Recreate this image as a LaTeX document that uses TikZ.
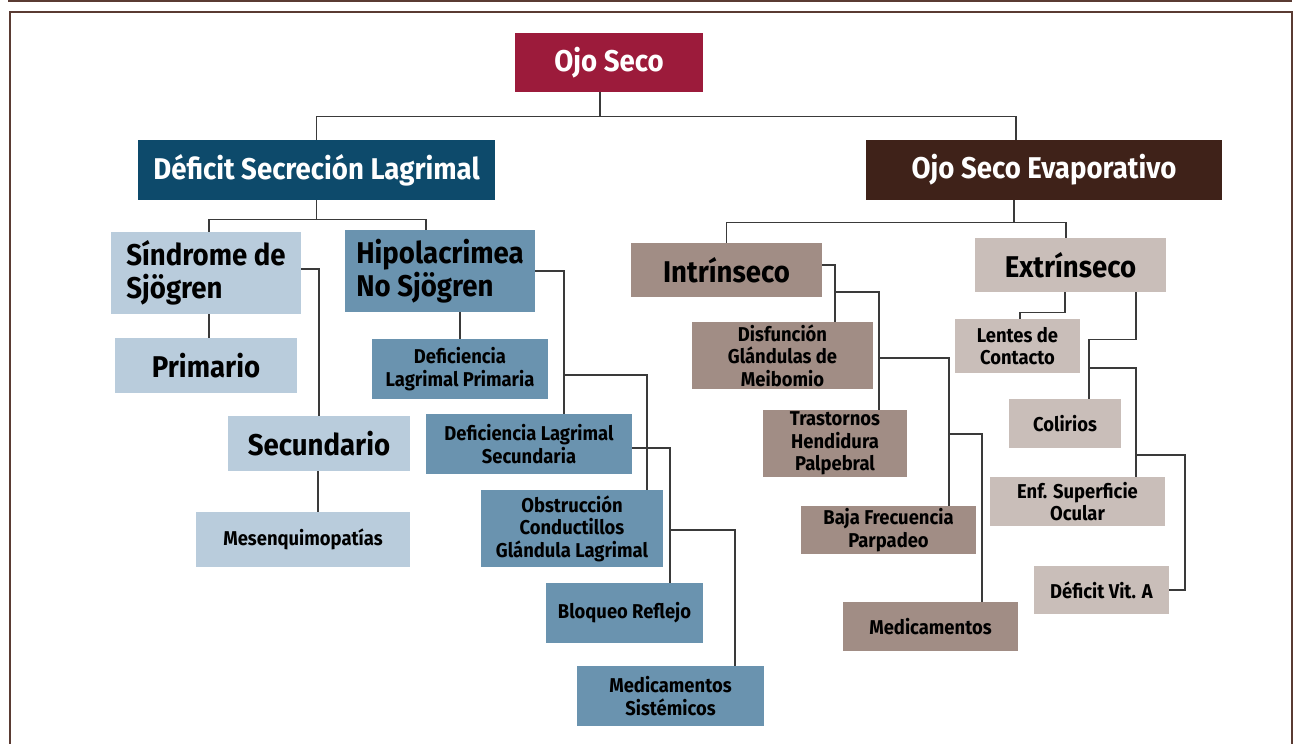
\documentclass[tikz,border=0pt]{standalone}
\usepackage{fontspec}
\setmainfont{Fira Sans}[FakeStretch=0.92]
\usetikzlibrary{calc}
\definecolor{ojored}{HTML}{9C1B3B}
\definecolor{defblue}{HTML}{0D4A6B}
\definecolor{evapbrown}{HTML}{3F2219}
\definecolor{lightblue}{HTML}{B9CCDC}
\definecolor{midblue}{HTML}{6A93AF}
\definecolor{midbrown}{HTML}{A18D85}
\definecolor{lightbrown}{HTML}{C9BEB9}
\definecolor{framebrown}{HTML}{5A3B33}
\definecolor{linegray}{HTML}{3A3A3A}
\tikzset{
  box/.style={inner sep=0pt, align=center, font=\bfseries\fontsize{20}{22.5}\selectfont},
  bigbox/.style={box, font=\bfseries\fontsize{30}{32.5}\selectfont},
  link/.style={draw=linegray, line width=1.4pt}
}
\begin{document}
\begin{tikzpicture}[x=1pt,y=-1pt]
        \useasboundingbox (0,0) rectangle (1298,744);
        % Frame
        \draw[framebrown, line width=1.6pt] (8,1) -- (1292,1);
        \draw[framebrown, line width=2pt] (10,746) -- (10,12) -- (1292,12) -- (1292,746);
        % Top levels
        \node[bigbox, fill=ojored, text=white, minimum width=188, minimum height=59] (ojo) at (609,62.5) {Ojo Seco};
        \node[bigbox, fill=defblue, text=white, minimum width=357, minimum height=60] (def) at (316.5,170) {Déficit Secreción Lagrimal};
        \node[bigbox, fill=evapbrown, text=white, minimum width=356, minimum height=60] (evap) at (1044,170) {Ojo Seco Evaporativo};
        % Deficit branch
        \node[bigbox, fill=lightblue, align=left, minimum width=190, minimum height=82] (sjo) at (206,273) {Síndrome de\\Sjögren};
        \node[bigbox, fill=midblue, align=left, minimum width=190, minimum height=82] (hipo) at (440,271) {Hipolacrimea\\No Sjögren};
        \node[bigbox, fill=lightblue, minimum width=182, minimum height=55] (prim) at (206,365.5) {Primario};
        \node[bigbox, fill=lightblue, minimum width=182, minimum height=55] (secu) at (319,443.5) {Secundario};
        \node[box, fill=lightblue, minimum width=214, minimum height=55] (mesen) at (303,539.5) {Mesenquimopatías};
        \node[box, fill=midblue, minimum width=176, minimum height=60] (dlp) at (460,369) {Deficiencia\\Lagrimal Primaria};
        \node[box, fill=midblue, minimum width=206, minimum height=60] (dls) at (529,444) {Deficiencia Lagrimal\\Secundaria};
        \node[box, fill=midblue, minimum width=182, minimum height=77] (obst) at (572,528.5) {Obstrucción\\Conductillos\\Glándula Lagrimal};
        \node[box, fill=midblue, minimum width=157, minimum height=60] (bloq) at (624.5,613) {Bloqueo Reflejo};
        \node[box, fill=midblue, minimum width=187, minimum height=60] (medsis) at (670.5,696) {Medicamentos\\Sistémicos};
        % Evaporativo branch
        \node[bigbox, fill=midbrown, minimum width=191, minimum height=54] (intr) at (726.5,270) {Intrínseco};
        \node[bigbox, fill=lightbrown, minimum width=191, minimum height=54] (extr) at (1070.5,265) {Extrínseco};
        \node[box, fill=midbrown, minimum width=181, minimum height=67] (dgm) at (782.5,355.5) {Disfunción\\Glándulas de\\Meibomio};
        \node[box, fill=midbrown, minimum width=144, minimum height=67] (tras) at (835,443.5) {Trastornos\\Hendidura\\Palpebral};
        \node[box, fill=midbrown, minimum width=175, minimum height=48] (baja) at (888.5,530) {Baja Frecuencia\\Parpadeo};
        \node[box, fill=midbrown, minimum width=175, minimum height=49] (medi) at (930.5,626.5) {Medicamentos};
        \node[box, fill=lightbrown, minimum width=125, minimum height=54] (lent) at (1017.5,346) {Lentes de\\Contacto};
        \node[box, fill=lightbrown, minimum width=112, minimum height=49] (coli) at (1065,423.5) {Colirios};
        \node[box, fill=lightbrown, minimum width=175, minimum height=49] (enf) at (1077.5,501.5) {Enf. Superficie\\Ocular};
        \node[box, fill=lightbrown, minimum width=135, minimum height=48] (vita) at (1101.5,590) {Déficit Vit. A};
        % Connectors, top
        \draw[link] ([xshift=-9]ojo.south) -- ++(0,24) -| (def.north);
        \draw[link] ([xshift=-9]ojo.south) -- ++(0,24) -| ([xshift=-28]evap.north);
        \draw[link] (def.south) -- ++(0,19) -| ([xshift=3]sjo.north);
        \draw[link] (def.south) -- ++(0,19) -| ([xshift=-14]hipo.north);
        % Connectors, Deficit
        \draw[link] ([xshift=3]sjo.south) -- ([xshift=3]prim.north);
        \draw[link] ([yshift=4]sjo.east) -| (secu.north);
        \draw[link] ([xshift=-1]secu.south) -- ([xshift=-1]secu.south |- mesen.north);
        \draw[link] (dlp.north) -- (dlp.north |- hipo.south);
        \draw[link] (hipo.east) -| ([xshift=35]dls.north);
        \coordinate (h1) at (564,375);
        \draw[link] (h1) -| ([xshift=75]obst.north);
        \draw[link] ([yshift=-4]dls.east) -| ([xshift=45.5]bloq.north);
        \coordinate (h2) at (670,530);
        \draw[link] (h2) -| ([xshift=64.5]medsis.north);
        % Connectors, Evaporativo
        \draw[link] ([xshift=-30]evap.south) -- ++(0,22) -| (intr.north);
        \draw[link] ([xshift=-30]evap.south) -- ++(0,22) -| ([xshift=-4.5]extr.north);
        \draw[link] ([yshift=5]intr.east) -| ([xshift=52.5]dgm.north);
        \coordinate (i1) at (835,292);
        \draw[link] (i1) -| ([xshift=44]tras.north);
        \coordinate (i2) at (879,358);
        \draw[link] (i2) -| ([xshift=60.5]baja.north);
        \coordinate (i3) at (949,434);
        \draw[link] (i3) -| ([xshift=51.5]medi.north);
        \draw[link] ([xshift=-5.5]extr.south) -- ++(0,20) -| ([xshift=2.5]lent.north);
        \draw[link] ([xshift=65.5]extr.south) -- ++(0,47) -| ([xshift=24]coli.north);
        \coordinate (e1) at (1089,368);
        \draw[link] (e1) -| ([xshift=58.5]enf.north);
        \coordinate (e2) at (1136,455);
        \draw[link] (e2) -- ++(49,0) |- (vita.east);
\end{tikzpicture}
\end{document}
